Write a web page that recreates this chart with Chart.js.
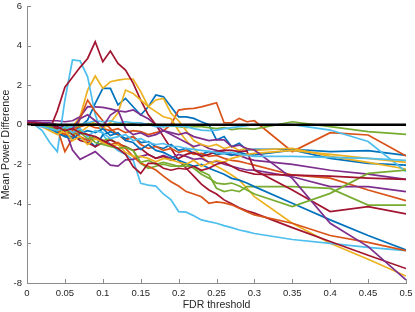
<!DOCTYPE html>
<html>
<head>
<meta charset="utf-8">
<script src="https://cdn.jsdelivr.net/npm/chart.js@4/dist/chart.umd.min.js"></script>
<style>
  html, body { margin: 0; padding: 0; background: #fff; }
</style>
</head>
<body>
<canvas id="fdrChart" width="415" height="312"></canvas>
<script>
// FDR thresholds (x)
const thresholds = [0, .01, .02, .03, .04, .05, .06, .07, .08, .09,
  .10, .11, .12, .13, .14, .15, .16, .17, .18, .19,
  .20, .21, .22, .23, .24, .25, .26, .27, .28, .29, .30,
  .35, .40, .45, .50];

const xTicks = [0, 0.05, 0.1, 0.15, 0.2, 0.25, 0.3, 0.35, 0.4, 0.45, 0.5];
const yTicks = [-8, -6, -4, -2, 0, 2, 4, 6];

// MATLAB default line colours
const palette = ['#0072BD', '#D95319', '#EDB120', '#7E2F8E', '#77AC30', '#4DBEEE', '#A2142F'];

// mean power difference per run
const blue1 = [0.05, 0.05, 0.0, -0.1, -0.3, -0.5, -0.4, -0.1, 0.24, 1.08,
  1.84, 1.84, 1.0, 1.33, 0.91, 0.49, 0.91, 1.5, 1.41, 0.91,
  0.4, 0.4, 0.32, 0.15, 0.0, -0.77, -0.6, -1.11, -0.94, -1.28, -1.24,
  -1.24, -1.36, -1.31, -1.55];
const orange1 = [0.1, 0.1, 0.05, 0.0, -0.1, -0.15, -0.2, -0.1, 0.0, -0.15,
  -0.2, -0.3, -0.2, -0.4, -0.3, -0.35, -0.5, -0.4, -0.3, 0.0,
  0.74, 0.8, 0.83, 0.9, 1.0, 1.11, 0.1, 0.1, 0.32, 0.15, 0.2,
  -1.36, -0.4, -0.52, -1.58];
const yellow1 = [0.1, 0.1, 0.05, -0.1, -0.2, -0.4, -0.1, 0.4, 1.75, 2.46,
  1.84, 2.17, 2.25, 2.31, 2.31, 1.67, 0.91, 0.66, 0.4, 0.3,
  -0.3, -0.8, -1.2, -1.6, -1.9, -2.1, -2.3, -2.54, -2.8, -3.2, -3.64,
  -4.98, -5.99, -6.8, -7.65];
const purple1 = [0.2, 0.2, 0.2, 0.2, 0.2, 0.15, 0.2, 0.4, 0.91, 0.9,
  0.88, 0.8, 0.7, 0.65, 0.75, 0.5, 0.3, 0.0, -0.3, -0.5,
  -0.7, -0.9, -1.1, -1.0, -1.2, -1.3, -1.4, -1.5, -1.55, -1.7, -1.8,
  -2.0, -2.3, -2.5, -2.76];
const green1 = [0.1, 0.1, 0.05, 0.0, 0.0, -0.1, -0.15, -0.05, 0.1, 0.05,
  -0.1, 0.0, 0.1, 0.0, 0.05, -0.05, 0.05, 0.0, -0.1, -0.05,
  -0.1, -0.15, -0.1, -0.1, -0.15, -0.2, -0.15, -0.25, -0.2, -0.2, -0.22,
  0.15, -0.1, -0.35, -0.49];
const lightBlue1 = [0.0, 0.0, -0.3, -0.9, -1.36, 1.25, 3.27, 3.23, 2.42, 0.5,
  -0.5, -1.0, -1.3, -1.5, -1.78, -2.96, -3.05, -3.1, -3.5, -3.8,
  -4.39, -4.42, -4.6, -4.81, -4.9, -4.98, -5.1, -5.2, -5.32, -5.4, -5.5,
  -5.8, -6.0, -6.2, -6.36];
const darkRed1 = [0.05, 0.0, -0.1, -0.25, 0.7, 1.9, 2.4, 2.9, 3.35, 4.19,
  3.18, 3.72, 3.1, 2.76, 2.1, 1.24, 0.5, 0.0, -0.6, -1.2,
  -1.8, -2.2, -2.6, -3.0, -3.3, -3.5, -3.8, -4.0, -4.2, -4.35, -4.47,
  -5.2, -5.9, -6.6, -7.27];

const blue2 = [0.1, 0.1, 0.05, 0.0, -0.43, -0.55, -0.6, -0.69, -0.75, -1.11,
  -0.52, -0.35, -0.5, -0.7, -0.6, -0.9, -0.85, -1.1, -1.2, -1.0,
  -1.3, -1.2, -1.45, -1.5, -1.35, -1.5, -1.45, -1.55, -1.4, -1.5, -1.53,
  -1.28, -1.70, -1.95, -2.04];
const orange2 = [0.1, 0.1, 0.1, 0.0, -0.2, -1.36, -0.69, 0.3, 1.25, 0.66,
  0.2, -0.2, -0.5, -0.8, -0.6, -1.0, -1.2, -1.1, -1.3, -1.2,
  -1.4, -1.3, -1.5, -1.45, -1.6, -1.55, -1.7, -1.8, -1.85, -1.95, -2.04,
  -2.54, -2.7, -3.3, -3.84];
const yellow2 = [0.05, 0.05, 0.0, -0.1, -0.3, -0.5, -0.2, -0.4, -0.1, 0.2,
  -0.2, 0.1, 0.6, 1.75, 1.58, 1.25, 0.91, 1.25, 1.33, 0.58,
  0.2, -0.3, -0.8, -1.0, -1.1, -1.0, -1.2, -1.1, -1.3, -1.2, -1.3,
  -1.19, -1.6, -1.9, -2.24];
const purple2 = [0.15, 0.15, 0.1, 0.1, 0.0, -0.2, -1.28, -1.75, -1.55, -1.36,
  -1.7, -2.04, -2.09, -1.78, -1.75, -1.6, -1.5, -1.7, -1.55, -1.7,
  -1.5, -1.6, -1.75, -1.7, -1.9, -1.85, -2.0, -2.1, -2.2, -2.29, -2.3,
  -2.63, -3.13, -3.13, -3.38];
const green2 = [0.05, 0.05, 0.0, -0.1, -0.2, -0.3, -0.5, -0.4, -0.7, -0.6,
  -0.8, -0.7, -1.0, -1.1, -1.3, -1.95, -2.2, -2.1, -2.0, -2.1,
  -2.09, -2.1, -2.12, -2.37, -2.54, -3.21, -3.38, -3.3, -3.38, -3.13, -3.13,
  -3.13, -3.22, -4.06, -4.06];
const lightBlue2 = [0.05, 0.05, 0.0, -0.05, -0.1, -0.2, -0.1, 0.0, 0.1, 0.2,
  0.15, 0.2, 0.1, 0.15, 0.1, 0.1, 0.0, -0.1, -0.1, -0.05,
  -0.07, -0.1, -0.2, -0.27, -0.3, -0.27, -0.2, -0.15, -0.1, -0.05, 0.0,
  0.0, -0.27, -0.85, -2.37];
const darkRed2 = [0.05, 0.05, 0.0, -0.1, -0.2, -0.1, -0.5, -0.8, -0.9, -1.11,
  -0.9, -0.77, -0.95, -1.11, -1.3, -1.2, -1.5, -1.7, -1.6, -1.8,
  -1.7, -1.5, -1.4, -1.6, -1.5, -1.35, -1.28, -1.3, -1.36, -1.32, -2.29,
  -3.3, -4.39, -4.14, -4.51];

const blue3 = [0.0, 0.0, -0.05, -0.2, -0.4, -0.6, -0.7, -0.45, -0.3, -0.4,
  -0.2, -0.55, -0.4, -0.8, -0.9, -1.25, -1.0, -1.3, -1.4, -1.6,
  -1.8, -1.95, -2.1, -2.0, -2.2, -2.35, -2.5, -2.71, -2.8, -2.95, -3.13,
  -3.97, -4.81, -5.6, -6.33];
const orange3 = [0.1, 0.1, 0.05, -0.1, -0.3, -0.5, -0.3, -0.6, -0.8, -0.7,
  -0.9, -1.0, -0.9, -1.2, -1.6, -1.95, -2.1, -2.29, -2.6, -2.88,
  -3.1, -3.38, -3.5, -3.64, -3.97, -3.9, -3.95, -4.05, -4.22, -4.4, -4.56,
  -4.98, -5.6, -5.95, -6.36];
const yellow3 = [0.0, 0.0, -0.1, -0.3, -0.5, -0.3, -0.8, -0.6, -1.0, -0.7,
  -0.9, -1.1, -1.0, -1.4, -1.6, -1.6, -1.7, -1.87, -1.7, -1.78,
  -1.9, -2.0, -1.8, -2.1, -1.95, -1.8, -1.9, -1.7, -1.6, -1.5, -1.45,
  -1.3, -1.5, -1.7, -1.9];
const purple3 = [0.1, 0.1, 0.05, 0.0, -0.1, -0.3, -0.2, 0.3, 0.5, 0.2,
  -0.1, 0.49, 0.74, -0.2, -0.5, -0.4, -0.6, -0.5, -0.3, -0.4,
  -0.5, -0.4, -0.6, -0.7, -0.8, -0.75, -0.77, -1.11, -1.03, -1.2, -1.28,
  -2.71, -4.98, -6.16, -7.84];
const green3 = [0.0, 0.0, -0.05, -0.1, -0.3, -0.2, -0.4, -0.3, -0.5, -0.9,
  -1.0, -1.1, -1.2, -1.15, -1.3, -1.9, -1.8, -2.0, -1.9, -2.0,
  -2.1, -2.0, -2.2, -2.5, -2.7, -2.95, -3.0, -2.95, -3.1, -3.3, -3.5,
  -4.14, -3.47, -2.46, -2.29];
const lightBlue3 = [0.0, 0.0, -0.1, -0.2, -0.3, -0.1, -0.4, -0.2, -0.6, -0.3,
  -0.4, -0.7, -0.6, -0.5, -0.8, -0.7, -0.9, -1.0, -0.95, -1.1,
  -1.1, -1.2, -1.25, -1.3, -1.35, -1.4, -1.45, -1.4, -1.5, -1.55, -1.6,
  -1.6, -1.65, -1.7, -1.8];
const darkRed3 = [0.1, 0.1, 0.05, 0.0, -0.1, -0.3, -0.2, -0.4, -0.5, -0.6,
  -0.8, -1.0, -1.2, -1.5, -2.12, -2.46, -1.95, -1.95, -2.2, -2.3,
  -2.2, -2.25, -2.1, -2.3, -2.2, -2.0, -1.9, -2.1, -2.3, -2.4, -2.5,
  -2.55, -2.6, -2.7, -2.76];

const runs = [
  blue1, orange1, yellow1, purple1, green1, lightBlue1, darkRed1,
  blue2, orange2, yellow2, purple2, green2, lightBlue2, darkRed2,
  blue3, orange3, yellow3, purple3, green3, lightBlue3, darkRed3
];

const zeroLine = [0, 0];
const zeroX = [0, 0.5];

const axisGray = '#8c8c8c';
const textGray = '#262626';
const fontFamily = '"Liberation Sans", Arial, Helvetica, sans-serif';

const datasets = runs.map((vals, i) => ({
  data: vals.map((v, j) => ({ x: thresholds[j], y: v })),
  borderColor: palette[i % palette.length],
  borderWidth: 1.7,
  pointRadius: 0,
  tension: 0,
  fill: false,
  order: 100 - i
}));

datasets.push({
  data: zeroX.map((x, j) => ({ x: x, y: zeroLine[j] })),
  borderColor: '#000000',
  borderWidth: 2.5,
  pointRadius: 0,
  fill: false,
  order: -1
});

// MATLAB style inward tick marks
const innerTicks = {
  id: 'innerTicks',
  afterDraw(chart) {
    const { ctx, chartArea, scales } = chart;
    ctx.save();
    ctx.strokeStyle = axisGray;
    ctx.lineWidth = 1;
    ctx.beginPath();
    xTicks.forEach(v => {
      const px = Math.round(scales.x.getPixelForValue(v)) + 0.5;
      ctx.moveTo(px, chartArea.bottom);
      ctx.lineTo(px, chartArea.bottom - 4);
    });
    yTicks.forEach(v => {
      const py = Math.round(scales.y.getPixelForValue(v)) + 0.5;
      ctx.moveTo(chartArea.left, py);
      ctx.lineTo(chartArea.left + 4, py);
    });
    ctx.stroke();
    ctx.restore();
  }
};

const ctx = document.getElementById('fdrChart').getContext('2d');

const chart = new Chart(ctx, {
  type: 'line',
  data: { datasets: datasets },
  options: {
    responsive: false,
    animation: false,
    devicePixelRatio: 1,
    layout: { padding: { left: 0, right: 9, top: 6, bottom: 0 } },
    plugins: {
      legend: { display: false },
      tooltip: { enabled: false }
    },
    scales: {
      x: {
        type: 'linear',
        min: 0,
        max: 0.5,
        afterFit: s => {
          s.height = 29;
          s.paddingLeft = 0;
          s.paddingRight = 0;
        },
        afterBuildTicks: s => { s.ticks = xTicks.map(v => ({ value: v })); },
        grid: { drawOnChartArea: false, drawTicks: false },
        border: { display: true, color: axisGray, width: 1 },
        ticks: {
          padding: 5,
          maxRotation: 0,
          color: textGray,
          font: { family: fontFamily, size: 9.5 },
          callback: v => String(Number(v.toFixed(2)))
        },
        title: {
          display: true,
          text: 'FDR threshold',
          color: textGray,
          font: { family: fontFamily, size: 10.5 },
          padding: { top: 0, bottom: 1 }
        }
      },
      y: {
        min: -8,
        max: 6,
        afterFit: s => {
          s.width = 27;
          s.paddingTop = 0;
          s.paddingBottom = 0;
        },
        afterBuildTicks: s => { s.ticks = yTicks.map(v => ({ value: v })); },
        grid: { drawOnChartArea: false, drawTicks: false },
        border: { display: true, color: axisGray, width: 1 },
        ticks: {
          padding: 5,
          color: textGray,
          font: { family: fontFamily, size: 9.5 }
        },
        title: {
          display: true,
          text: 'Mean Power Difference',
          color: textGray,
          font: { family: fontFamily, size: 10.5 },
          padding: { top: 0, bottom: 0 }
        }
      }
    }
  },
  plugins: [innerTicks]
});
</script>
</body>
</html>
